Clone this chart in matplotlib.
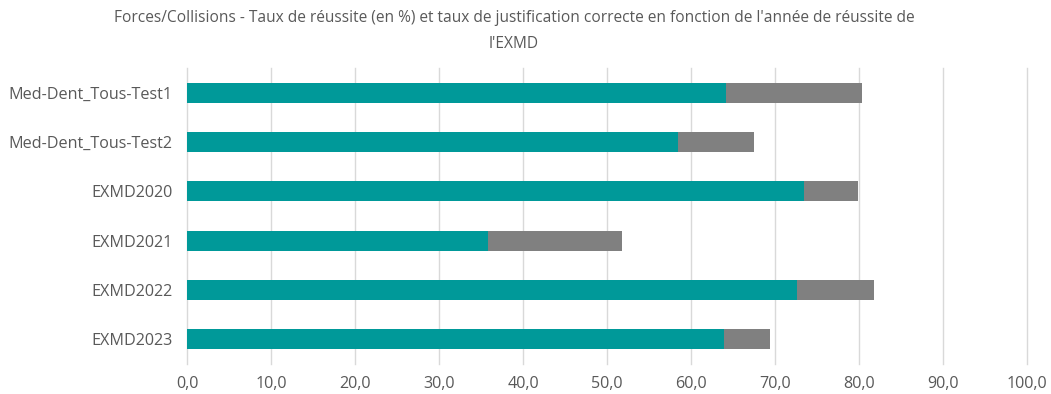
import matplotlib
matplotlib.use("Agg")
import matplotlib.pyplot as plt
import numpy as np

categories = ["Med-Dent_Tous-Test1", "Med-Dent_Tous-Test2", "EXMD2020",
              "EXMD2021", "EXMD2022", "EXMD2023"]
taux_justification = [64.2, 58.5, 73.4, 35.8, 72.6, 63.9]
taux_reussite = [80.4, 67.5, 79.9, 51.8, 81.8, 69.4]
xticks = np.arange(0, 101, 10)

plt.rcParams["font.family"] = ["Open Sans", "DejaVu Sans"]
text_color = "#595959"

fig = plt.figure(figsize=(10.51, 3.94), dpi=100)
ax = fig.add_axes([187 / 1051, 1 - 364 / 394, (1027 - 187) / 1051, (364 - 68) / 394])

y = np.arange(len(categories))
h = 0.41
ax.barh(y, taux_reussite, height=h, color="#808080", zorder=2)
ax.barh(y, taux_justification, height=h, color="#009999", zorder=3)

ax.set_xlim(0, 100)
ax.set_ylim(len(categories) - 0.5, -0.5)
ax.set_yticks(y)
ax.set_yticklabels(categories)
ax.set_xticks(xticks)
ax.set_xticklabels([f"{v:.1f}".replace(".", ",") for v in xticks])
ax.tick_params(axis="both", length=0, labelsize=11.6, colors=text_color)
ax.tick_params(axis="x", pad=9)
ax.tick_params(axis="y", pad=10.5)
ax.grid(axis="x", color="#d9d9d9", linewidth=1, zorder=0)
for line in ax.get_xgridlines():
    line.set_clip_on(False)
for s in ax.spines.values():
    s.set_visible(False)

fig.text(514 / 1051, 1 - 31 / 394,
         "Forces/Collisions - Taux de réussite (en %) et taux de justification correcte en fonction de l'année de réussite de\nl'EXMD",
         ha="center", va="center", fontsize=11.2, color=text_color, linespacing=1.75)

fig.savefig("out.png", dpi=100)
